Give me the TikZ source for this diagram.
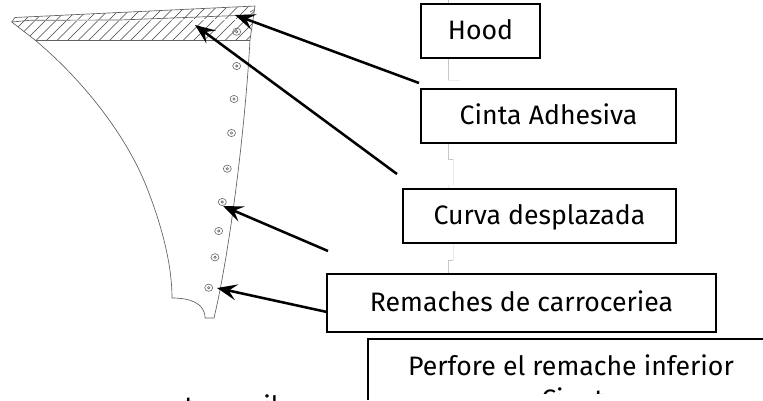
\documentclass[tikz,border=0pt]{standalone}
\usepackage{fontspec}
\setmainfont{Fira Sans}
\usetikzlibrary{arrows.meta}
\tikzset{
  x=0.75pt,y=-0.75pt,
  label text/.style={font=\fontsize{20}{24}\selectfont,inner sep=0pt},
  label box/.style={label text,draw=black,line width=1.3pt,fill=white,align=center,text height=15pt,text depth=3pt},
  ghost/.style={draw=black!22,line width=0.5pt},
  ghost faint/.style={draw=black!8,line width=0.5pt},
  body/.style={draw=black!62,line width=0.5pt,line join=round},
  hatchline/.style={draw=black!75,line width=0.4pt},
  callout/.style={draw=black,line width=1.9pt,-{Stealth[length=15pt,width=12pt,inset=6pt]}},
  rivet/.style={draw=black!60,line width=0.45pt},
}
\begin{document}
\begin{tikzpicture}
\useasboundingbox (0,0) rectangle (763,400);
\clip (0,0) rectangle (763,400);
% stepped pale line behind boxes
\draw[ghost] (448,0) -- (448,80);
\draw[ghost faint] (448,80) -- (460,80);
\draw[ghost] (448,143) -- (448,159) -- (453,159);
\draw[ghost faint] (453,159) -- (453,185);
\draw[ghost faint] (448,185) -- (448,189);
\draw[ghost faint] (453,243) -- (453,260);
\draw[ghost] (453,260) -- (448,260) -- (448,274);
% hatched band
\begin{scope}
  \clip (15,17.5) -- (255,6) -- (250,40) -- (35,40) -- (11.7,22) -- cycle;
  \foreach \s in {0,10.5,...,290} { \draw[hatchline] (\s,45) -- (\s+45,0); }
  \draw[draw=white,line width=0.8pt] (30,20.5) -- (250,19.5);
\end{scope}
% fender outline
\draw[body] (11.7,22) -- (15,17.5) -- (255,6) -- (254.5,9.5) -- (250,12);
\draw[body] (11.7,22) -- (30,20.3) -- (120,20) -- (250,15);
\draw[body] (35,40) -- (250,40);
\draw[body] (11.7,22) -- (35,40)
  .. controls (85,82) and (125,135) .. (145,183)
  .. controls (162,225) and (172,265) .. (172,298)
  .. controls (190,298) and (205,303) .. (205,318)
  -- (214,318)
  .. controls (230,250) and (245,130) .. (250,40) -- (254.5,9.5);
% rivets
\foreach \p in {(236.7,31.7),(236.7,66),(234,99),(231.5,133),(227.3,168.7),(222.3,202),(218.7,231),(215,257.3),(208.7,287.7)} {
  \draw[rivet] \p circle[x radius=4,y radius=3.6];
  \draw[rivet] \p circle[radius=1.2];
}
% labels
\node[label box,minimum width=89.25pt,minimum height=40.5pt] (hood) at (480.5,31) {Hood};
\node[label box,minimum width=191.25pt,minimum height=40.5pt] (cinta) at (548.5,116) {Cinta Adhesiva};
\node[label box,minimum width=204.75pt,minimum height=40.5pt] (curva) at (539.5,216) {Curva desplazada};
\node[label box,minimum width=291.75pt,minimum height=43.5pt] (remaches) at (521.5,303) {Remaches de carroceriea};
% lower box, running off the page
\draw[draw=black,line width=1.5pt] (368,400) coordinate (pl) -- (368,339) -- (770,339);
\node[label text,anchor=base] (perfore) at (571,375) {Perfore el remache inferior};
% text cut off by the lower edges
\begin{scope}
  \clip (368,340) rectangle (763,393);
  \node[label text,anchor=base west] (pa) at (541,408) {Ci};
  \node[label text,anchor=base west] (pb) at (594,408) {t};
\end{scope}
\node[label text,anchor=base west] (la) at (184,415) {t};
\node[label text,anchor=base west] (lb) at (263,415) {il};
% callouts
\coordinate (hoodtip) at (235,15);
\coordinate (cintatip) at (195,25);
\coordinate (curvatip) at (223,206);
\coordinate (remtip) at (217,288);
\coordinate (hoodend) at (419,83);
\coordinate (cintaend) at (397,174);
\coordinate (curvaend) at (328,251);
\coordinate (remend) at (327,312);
\draw[callout] (hoodend) -- (hoodtip);
\draw[callout] (cintaend) -- (cintatip);
\draw[callout] (curvaend) -- (curvatip);
\draw[callout] (remend) -- (remtip);
\end{tikzpicture}
\end{document}
